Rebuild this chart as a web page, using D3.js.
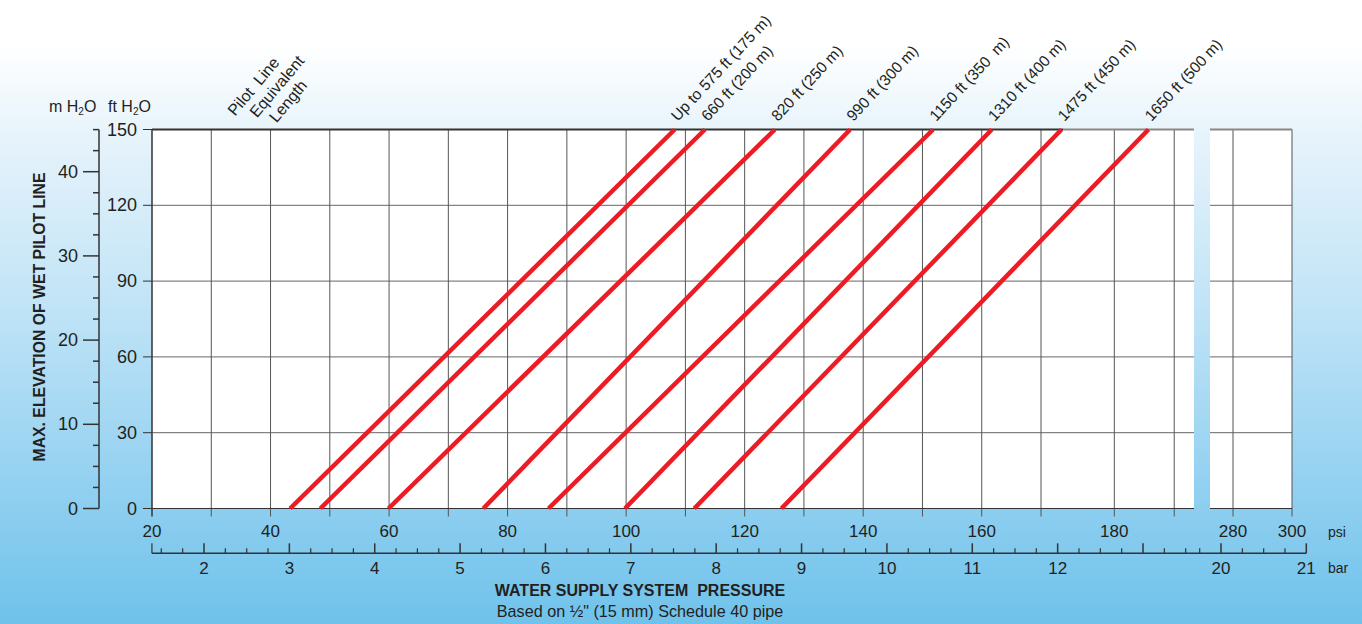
<!DOCTYPE html>
<html>
<head>
<meta charset="utf-8">
<script src="https://cdn.jsdelivr.net/npm/d3@7"></script>
<style>
  body { margin: 0; background: #fff; }
  svg text { font-family: "Liberation Sans", Arial, sans-serif; fill: #231f20; }
</style>
</head>
<body>
<svg id="chart" width="1362" height="624"></svg>
<script>
// psi gridlines / ticks
var psiGrid = [20, 30, 40, 50, 60, 70, 80, 90, 100, 110, 120, 130, 140, 150, 160, 170, 180, 190, 280, 300],
	psiLabels = [20, 40, 60, 80, 100, 120, 140, 160, 180, 280, 300],
	psiBreak = [193.3, 272.2],
	ftTicks = [0, 30, 60, 90, 120, 150],
	mLabels = [0, 10, 20, 30, 40],
	barLabels = [2, 3, 4, 5, 6, 7, 8, 9, 10, 11, 12, 20, 21],
	barRange = [1.39, 21],
	barBreak = [13.5, 19.75];

// pilot line equivalent length curves: psi at 0 ft and at 150 ft
var lineNames = ['Up to 575 ft (175 m)', '660 ft (200 m)', '820 ft (250 m)', '990 ft (300 m)',
		'1150 ft (350  m)', '1310 ft (400 m)', '1475 ft (450 m)', '1650 ft (500 m)'],
	psiAtZero = [43.3, 48.4, 59.9, 75.9, 86.9, 99.8, 111.5, 126.2],
	psiAtTop = [108.2, 113.3, 125.1, 137.8, 151.8, 161.7, 172.8, 185.7];

var svg = d3.select('#chart');

// chart is not linear across the whole width, so use piecewise scales
var x = d3.scaleLinear()
	.domain([20, 170, 180, psiBreak[0], psiBreak[1], 300])
	.range([152, 1041, 1114.3, 1194, 1210, 1292]);
var y = d3.scaleLinear().domain([0, 150]).range([508.5, 129.5]);
var ym = d3.scaleLinear().domain([0, 40]).range([508.5, 171.7]);
var xb = d3.scaleLinear()
	.domain([2, barBreak[0], barBreak[1], 21])
	.range([204, 1185.7, 1199.7, 1306.3]);

// background
var defs = svg.append('defs');
var grad = defs.append('linearGradient')
	.attr('id', 'bg').attr('gradientUnits', 'userSpaceOnUse')
	.attr('x1', 0).attr('y1', 0).attr('x2', 0).attr('y2', 624);
[[0, '#ffffff'], [0.07, '#ffffff'], [0.22, '#e6f3fb'], [0.5, '#bfe3f6'], [0.8, '#8fcff0'], [1, '#6fc2eb']]
	.forEach(function(s) { grad.append('stop').attr('offset', s[0]).attr('stop-color', s[1]) });
svg.append('rect').attr('width', 1362).attr('height', 624).attr('fill', 'url(#bg)');

// plot area in two pieces round the break
var pieces = [[20, psiBreak[0]], [psiBreak[1], 300]];
svg.selectAll('rect.plot')
	.data(pieces)
	.enter().append('rect')
	.attr('class', 'plot')
	.attr('x', function(d) { return x(d[0]) })
	.attr('y', y(150))
	.attr('width', function(d) { return x(d[1]) - x(d[0]) })
	.attr('height', y(0) - y(150))
	.attr('fill', '#fff');

// horizontal grid
svg.selectAll('line.hgrid')
	.data(ftTicks.slice(1, -1))
	.enter().append('line')
	.attr('class', 'hgrid')
	.attr('x1', x(20)).attr('x2', x(300))
	.attr('y1', y).attr('y2', y)
	.attr('stroke', '#666').attr('stroke-width', 1);
svg.append('rect')
	.attr('x', x(psiBreak[0])).attr('y', y(150) - 1)
	.attr('width', x(psiBreak[1]) - x(psiBreak[0])).attr('height', y(0) - y(150) + 2)
	.attr('fill', 'url(#bg)');

// vertical grid + psi ticks below
svg.selectAll('line.vgrid')
	.data(psiGrid)
	.enter().append('line')
	.attr('class', 'vgrid')
	.attr('x1', x).attr('x2', x)
	.attr('y1', y(150)).attr('y2', y(0) + 8)
	.attr('stroke', function(d, i) { return d == 20 ? '#333' : '#555' })
	.attr('stroke-width', function(d) { return d == 20 ? 1.5 : 1 });

// frame top / bottom
svg.selectAll('line.bottom')
	.data(pieces)
	.enter().append('line')
	.attr('x1', function(d) { return x(d[0]) }).attr('x2', function(d) { return x(d[1]) })
	.attr('y1', y(0)).attr('y2', y(0))
	.attr('stroke', '#333').attr('stroke-width', 1.2);
svg.append('line')
	.attr('x1', x(20)).attr('x2', 1063).attr('y1', y(150)).attr('y2', y(150))
	.attr('stroke', '#333').attr('stroke-width', 2);
svg.selectAll('line.topgray')
	.data([[1063, x(psiBreak[0])], [x(psiBreak[1]), x(300)]])
	.enter().append('line')
	.attr('x1', function(d) { return d[0] }).attr('x2', function(d) { return d[1] })
	.attr('y1', y(150)).attr('y2', y(150))
	.attr('stroke', '#888').attr('stroke-width', 1.8);

// psi labels
svg.selectAll('text.psi')
	.data(psiLabels)
	.enter().append('text')
	.attr('x', x).attr('y', 537)
	.attr('text-anchor', 'middle')
	.style('font-size', '17px')
	.text(function(d) { return d });
svg.append('text').attr('x', 1328).attr('y', 537).style('font-size', '14px').text('psi');

// ft H2O axis (left edge of plot)
svg.selectAll('line.ftick')
	.data(ftTicks)
	.enter().append('line')
	.attr('x1', x(20) - 9).attr('x2', x(20))
	.attr('y1', y).attr('y2', y)
	.attr('stroke', '#333');
svg.selectAll('text.ft')
	.data(ftTicks)
	.enter().append('text')
	.attr('x', 137).attr('y', function(d) { return y(d) + 6 })
	.attr('text-anchor', 'end')
	.style('font-size', '18px')
	.text(function(d) { return d });

// m H2O axis
var mx = 99;
svg.append('line').attr('x1', mx).attr('x2', mx).attr('y1', y(150)).attr('y2', ym(0))
	.attr('stroke', '#333').attr('stroke-width', 1.5);
svg.selectAll('line.mtick')
	.data(d3.range(0, 45.01, 2.5))
	.enter().append('line')
	.attr('x1', function(d) { return d % 10 == 0 ? mx - 16 : mx - 6 }).attr('x2', mx)
	.attr('y1', ym).attr('y2', ym)
	.attr('stroke', '#333').attr('stroke-width', 1.5);
svg.selectAll('text.m')
	.data(mLabels)
	.enter().append('text')
	.attr('x', 78).attr('y', function(d) { return ym(d) + 6 })
	.attr('text-anchor', 'end')
	.style('font-size', '18px')
	.text(function(d) { return d });

// header units
var hm = svg.append('text').attr('x', 49).attr('y', 112).style('font-size', '16px');
hm.append('tspan').text('m H');
hm.append('tspan').attr('dy', 3).style('font-size', '10px').text('2');
hm.append('tspan').attr('dy', -3).text('O');
var hf = svg.append('text').attr('x', 108).attr('y', 112).style('font-size', '16px');
hf.append('tspan').text('ft H');
hf.append('tspan').attr('dy', 3).style('font-size', '10px').text('2');
hf.append('tspan').attr('dy', -3).text('O');

// Pilot line label
var pl = svg.append('text')
	.attr('transform', 'translate(281,90) rotate(-50)')
	.attr('text-anchor', 'middle')
	.style('font-size', '16px')
	.style('white-space', 'pre');
[['Pilot  Line', -15], ['Equivalent', 0], ['Length', -4]].forEach(function(t, i) {
	pl.append('tspan').attr('x', t[1]).attr('y', (i - 1) * 18).text(t[0]);
});

// y title
svg.append('text')
	.attr('transform', 'translate(45,317) rotate(-90)')
	.attr('text-anchor', 'middle')
	.style('font-size', '15.8px').style('font-weight', 'bold')
	.text('MAX. ELEVATION OF WET PILOT LINE');

// bar axis
var by = 553.3;
svg.append('line').attr('x1', xb(barRange[0])).attr('x2', xb(barRange[1]))
	.attr('y1', by).attr('y2', by).attr('stroke', '#333').attr('stroke-width', 1.5);
var barTicks = d3.range(1.5, barBreak[0] + 0.01, 0.25).concat(d3.range(barBreak[1], 21.01, 0.25));
barTicks.push(barRange[0]);
svg.selectAll('line.btick')
	.data(barTicks)
	.enter().append('line')
	.attr('x1', xb).attr('x2', xb)
	.attr('y1', function(d) { return (d % 1 == 0 || d == barRange[0]) ? by - 10 : by - 5 })
	.attr('y2', by)
	.attr('stroke', '#333').attr('stroke-width', function(d) { return d % 1 == 0 ? 1.5 : 1.2 });
svg.selectAll('text.bar')
	.data(barLabels)
	.enter().append('text')
	.attr('x', xb).attr('y', 574)
	.attr('text-anchor', 'middle')
	.style('font-size', '17px')
	.text(function(d) { return d });
svg.append('text').attr('x', 1328).attr('y', 573).style('font-size', '14px').text('bar');

// x titles
svg.append('text')
	.attr('x', 640).attr('y', 596).attr('text-anchor', 'middle')
	.style('font-size', '16px').style('font-weight', 'bold').style('white-space', 'pre')
	.text('WATER SUPPLY SYSTEM  PRESSURE');
svg.append('text')
	.attr('x', 640).attr('y', 617).attr('text-anchor', 'middle')
	.style('font-size', '16.2px')
	.text('Based on \u00bd" (15 mm) Schedule 40 pipe');

// red lines
svg.selectAll('line.pilot')
	.data(psiAtZero)
	.enter().append('line')
	.attr('class', 'pilot')
	.attr('x1', function(d) { return x(d) }).attr('y1', y(0))
	.attr('x2', function(d, i) { return x(psiAtTop[i]) }).attr('y2', y(150))
	.attr('stroke', '#ed1c24').attr('stroke-width', 4.5);
svg.selectAll('text.pilotlab')
	.data(lineNames)
	.enter().append('text')
	.attr('transform', function(d, i) { return 'translate(' + (x(psiAtTop[i]) + 3) + ',122) rotate(-47)' })
	.style('font-size', '15.5px').style('white-space', 'pre')
	.text(function(d) { return d });
</script>
</body>
</html>
